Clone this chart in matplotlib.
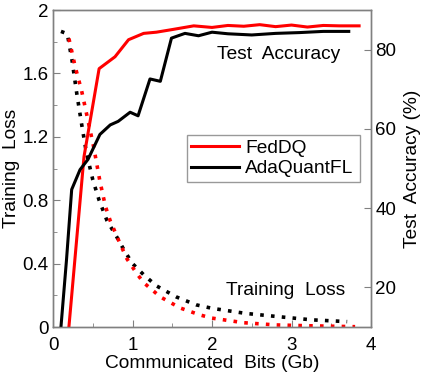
import matplotlib

matplotlib.use("Agg")
import matplotlib.pyplot as plt
from matplotlib.ticker import MultipleLocator, FuncFormatter

plt.rcParams["font.family"] = ["Liberation Sans", "DejaVu Sans"]

# test accuracy (%) vs communicated bits (Gb)
feddq_acc_x = [0.2, 0.39, 0.58, 0.78, 0.95, 1.14, 1.30, 1.51, 1.77, 2.0, 2.2, 2.4, 2.6, 2.8, 3.0, 3.2, 3.4, 3.6, 3.85]
feddq_acc_y = [10, 53, 75.2, 78.2, 82.5, 84.1, 84.4, 85.1, 86.0, 85.6, 86.1, 85.9, 86.3, 85.8, 86.2, 85.7, 86.1, 86.0, 86.0]
ada_acc_x = [0.1, 0.17, 0.235, 0.34, 0.44, 0.59, 0.72, 0.82, 0.97, 1.07, 1.22, 1.35, 1.49, 1.66, 1.83, 2.0, 2.2, 2.5, 2.8, 3.1, 3.4, 3.72]
ada_acc_y = [10, 27, 44.7, 49.7, 52.3, 58.6, 61.0, 61.9, 64.2, 63.3, 72.6, 72.0, 82.9, 84.1, 83.5, 84.4, 84.0, 83.7, 84.1, 84.3, 84.6, 84.6]

# training loss vs communicated bits (Gb)
feddq_loss_x = [0.2, 0.28, 0.36, 0.42, 0.51, 0.59, 0.66, 0.72, 0.84, 0.93, 1.05, 1.14, 1.35, 1.6, 1.85, 2.0, 2.4, 2.8, 3.2, 3.8]
feddq_loss_y = [1.82, 1.64, 1.49, 1.35, 1.14, 0.92, 0.76, 0.67, 0.53, 0.43, 0.34, 0.28, 0.19, 0.12, 0.076, 0.056, 0.027, 0.013, 0.008, 0.002]
ada_loss_x = [0.1, 0.18, 0.24, 0.3, 0.36, 0.42, 0.5, 0.58, 0.68, 0.8, 0.9, 1.0, 1.14, 1.3, 1.55, 1.8, 2.0, 2.42, 2.84, 3.26, 3.7]
ada_loss_y = [1.865, 1.85, 1.68, 1.47, 1.28, 1.10, 0.93, 0.80, 0.67, 0.57, 0.48, 0.40, 0.33, 0.26, 0.19, 0.14, 0.118, 0.086, 0.065, 0.045, 0.034]

RED = "#ff0000"
BLACK = "#000000"
SPINE = "#808080"

fig = plt.figure(figsize=(4.23, 3.76), dpi=100)
ax = fig.add_axes([0.1253, 0.1303, 0.7518, 0.8431])
ax2 = ax.twinx()

dots = (0, (1.0, 2.0))
ax.plot(ada_loss_x, ada_loss_y, color=BLACK, lw=2.6, linestyle=dots, dash_capstyle="butt")
ax.plot(feddq_loss_x, feddq_loss_y, color=RED, lw=2.6, linestyle=dots, dash_capstyle="butt")

l1, = ax2.plot(feddq_acc_x, feddq_acc_y, color=RED, lw=2.2, label="FedDQ")
l2, = ax2.plot(ada_acc_x, ada_acc_y, color=BLACK, lw=2.2, label="AdaQuantFL")

ax.set_xlim(0, 4)
ax.set_ylim(0, 2)
ax2.set_ylim(10, 90)
ax.xaxis.set_major_locator(MultipleLocator(1))
ax.xaxis.set_minor_locator(MultipleLocator(0.5))
ax.yaxis.set_major_locator(MultipleLocator(0.4))
ax.yaxis.set_minor_locator(MultipleLocator(0.2))
ax.yaxis.set_major_formatter(FuncFormatter(lambda v, p: f"{v:g}"))
ax2.set_yticks([20, 40, 60, 80])

for a in (ax, ax2):
    for s in a.spines.values():
        s.set_color(SPINE)
        s.set_linewidth(1.0)
    a.tick_params(which="both", direction="in", color=SPINE, labelsize=13.5, pad=3)
    a.tick_params(which="major", length=5)
    a.tick_params(which="minor", length=3)
ax.tick_params(axis="x", which="both", pad=7)
ax.tick_params(axis="y", which="both", right=False)
ax2.tick_params(axis="y", which="both", left=False)

ax.set_xlabel("Communicated  Bits (Gb)", fontsize=13.8, labelpad=1)
ax.set_ylabel("Training  Loss", fontsize=13.8)
ax2.set_ylabel("Test  Accuracy (%)", fontsize=13.8)
ax.yaxis.set_label_coords(-0.104, 0.5)
ax2.yaxis.set_label_coords(1.103, 0.5)

ax.text(2.06, 1.72, "Test  Accuracy", fontsize=13.8, va="center", ha="left")
ax.text(2.17, 0.23, "Training  Loss", fontsize=13.8, va="center", ha="left")

leg = ax2.legend(handles=[l1, l2], loc="upper left", bbox_to_anchor=(0.42, 0.43, 0.545, 0.176),
                 mode="expand", fontsize=13.8, frameon=True, fancybox=False, borderaxespad=0,
                 handlelength=2.5, handletextpad=0.3, labelspacing=0.15, borderpad=0.25)
leg.get_frame().set_edgecolor(SPINE)
leg.get_frame().set_linewidth(1.0)

fig.savefig("out.png", dpi=100)
